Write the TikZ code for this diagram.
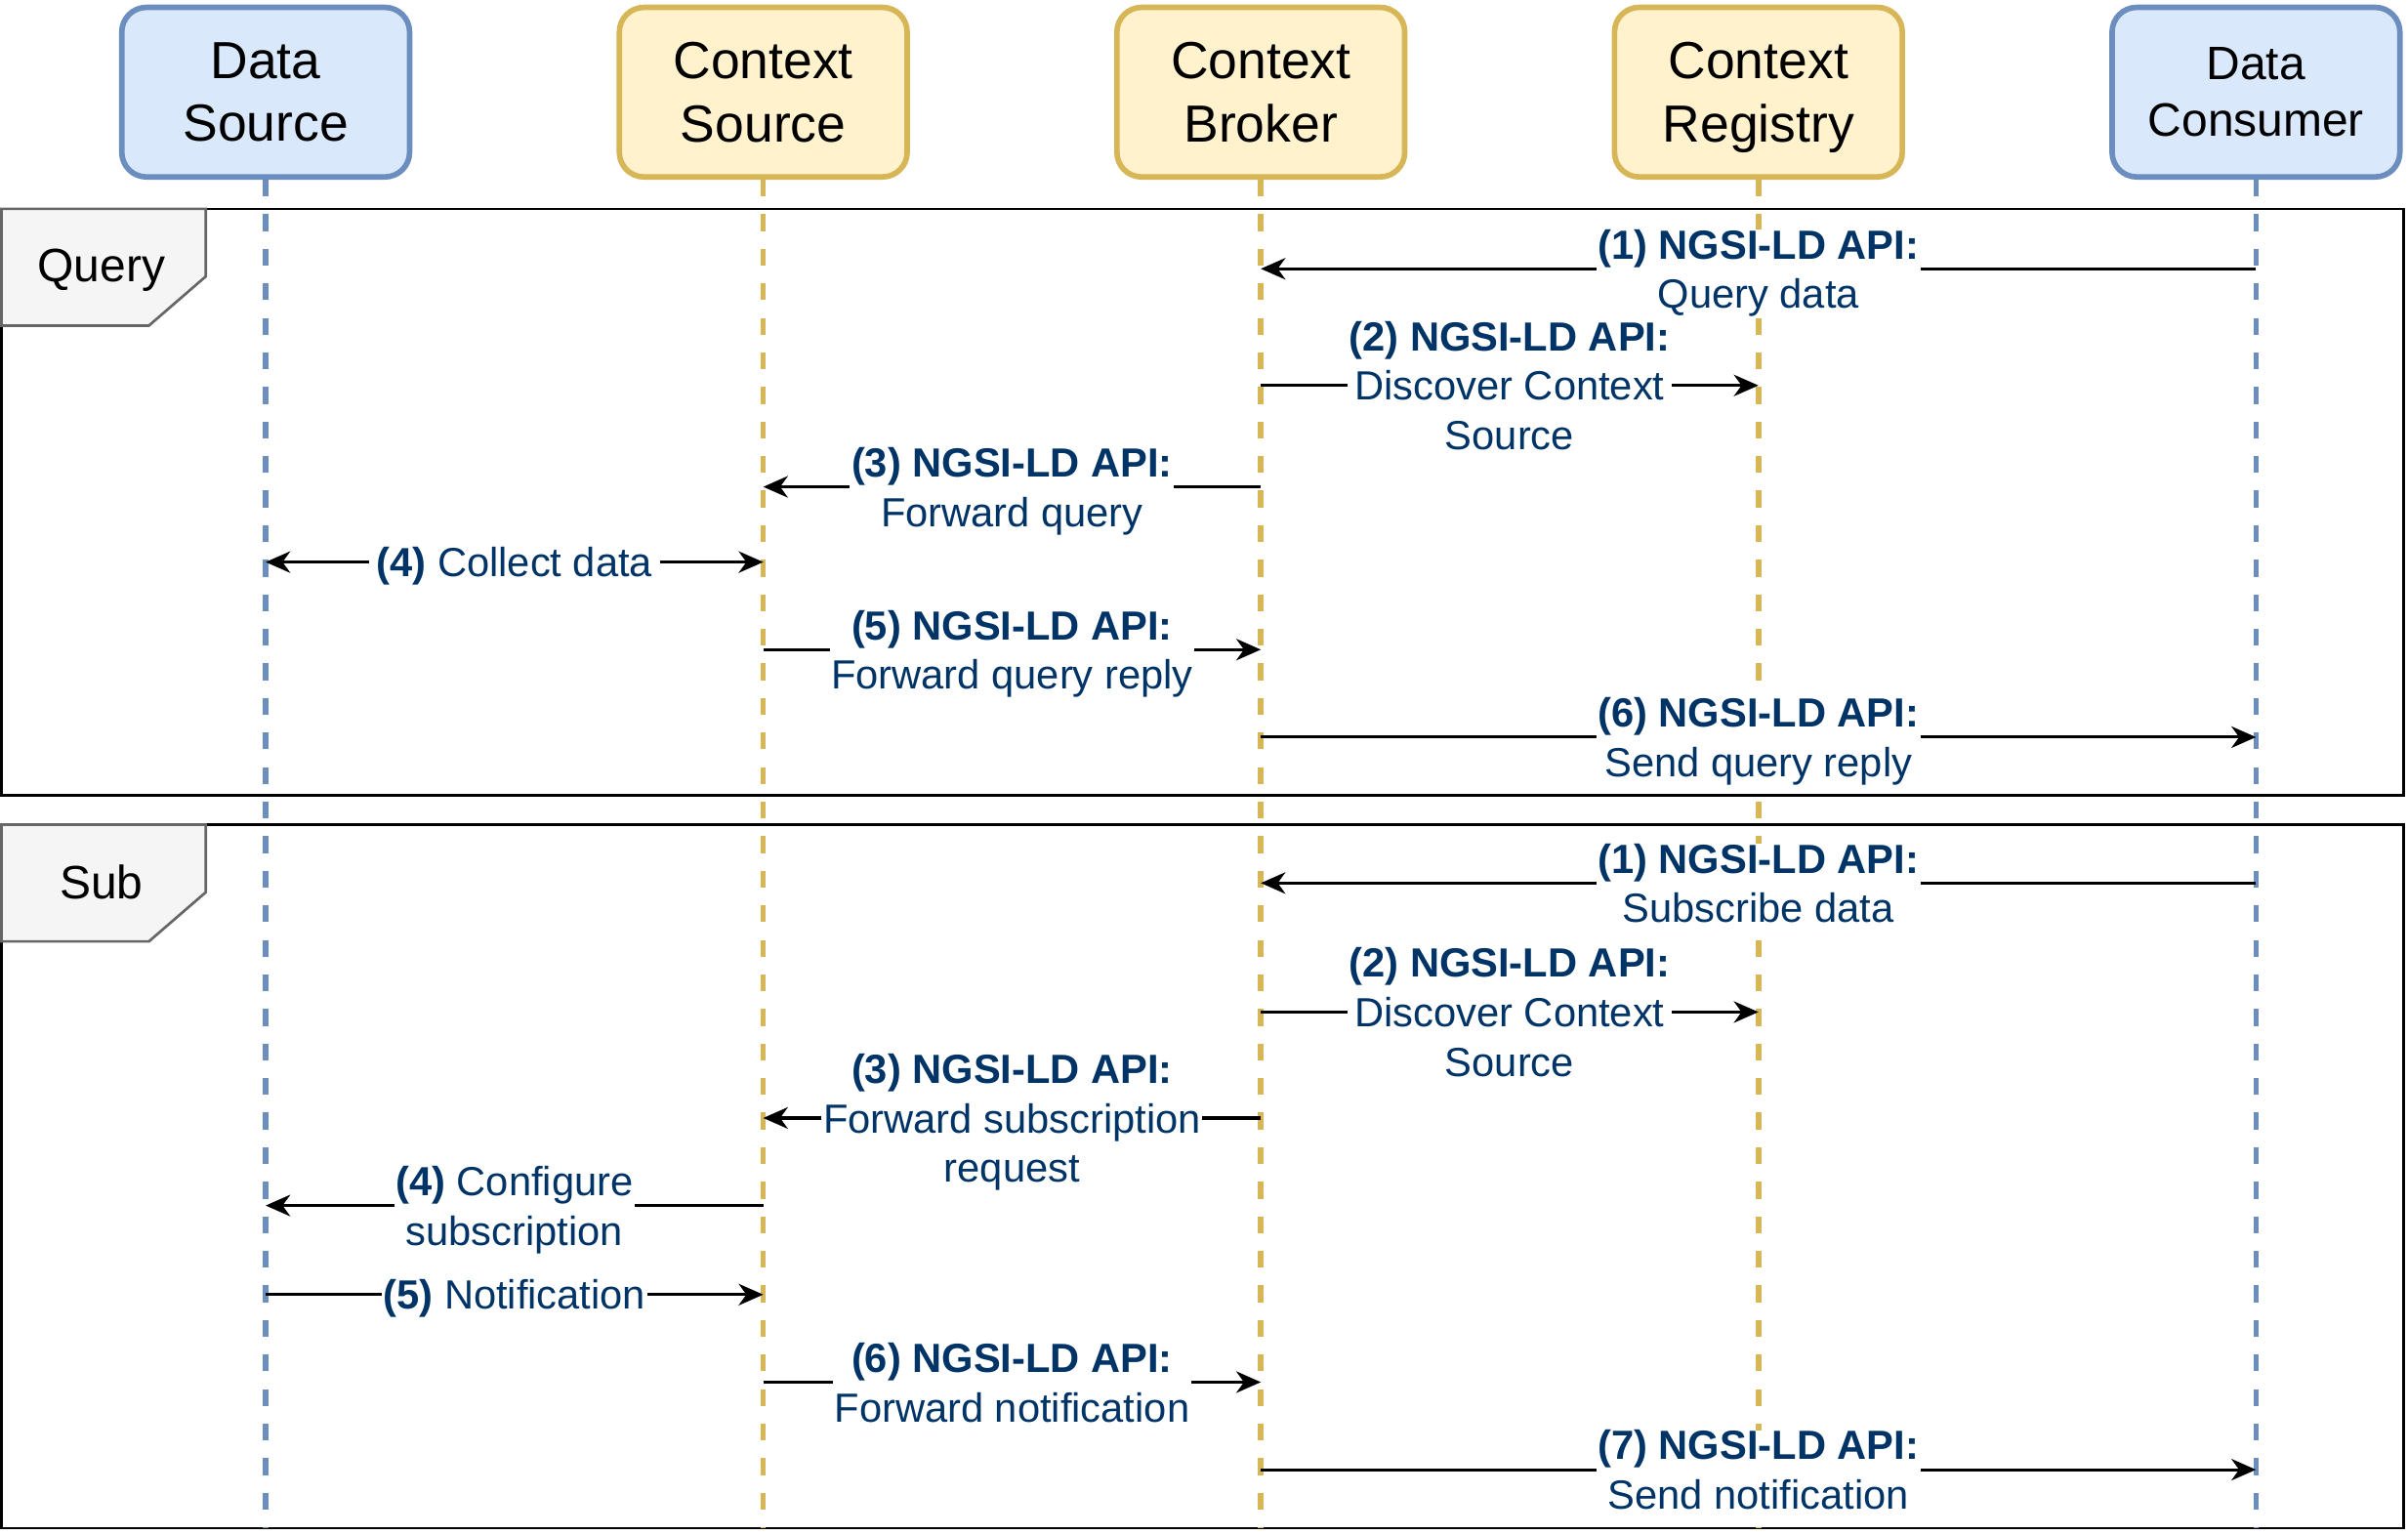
\documentclass[tikz,border=0pt]{standalone}
\usepackage{fontspec}
\setmainfont{Liberation Sans}
\usepackage{tikz}
\usetikzlibrary{arrows.meta, positioning}

\definecolor{blueFill}{HTML}{DAE8FC}
\definecolor{blueLine}{HTML}{6C8EBF}
\definecolor{yellowFill}{HTML}{FFF2CC}
\definecolor{yellowLine}{HTML}{D6B656}
\definecolor{frameFill}{HTML}{F5F5F5}
\definecolor{frameLine}{HTML}{666666}
\definecolor{labelBlue}{HTML}{003366}

\newcommand{\boxfont}{\fontsize{34}{41}\selectfont}
\newcommand{\smallboxfont}{\fontsize{30.5}{37}\selectfont}
\newcommand{\lblfont}{\fontsize{26.5}{32.3}\selectfont}

\begin{document}
\begin{tikzpicture}[x=1pt, y=-1pt, >={Stealth[length=16pt, width=14pt, inset=5pt]}]
        % Estilos
        \tikzstyle{actor} = [draw, rectangle, rounded corners=16pt, line width=3.6pt, minimum width=187.4pt, minimum height=110.4pt, align=center, font=\boxfont]
        \tikzstyle{blueActor} = [actor, fill=blueFill, draw=blueLine]
        \tikzstyle{yellowActor} = [actor, fill=yellowFill, draw=yellowLine]
        \tikzstyle{lifeline} = [line width=3.6pt, dash pattern=on 11pt off 11.5pt]
        \tikzstyle{frame} = [draw=black, line width=1.7pt]
        \tikzstyle{frameTag} = [draw=frameLine, fill=frameFill, line width=1.7pt]
        \tikzstyle{msg} = [draw, line width=2pt]
        \tikzstyle{lbl} = [fill=white, text=labelBlue, font=\lblfont, align=center, inner xsep=1pt, inner ysep=0pt, yshift=-2.8pt, execute at end node={\rule[-5.5pt]{0pt}{5.5pt}}]

        \useasboundingbox (0,0) rectangle (1568,999.5);

        % Frames
        \draw [frame] (1,136) rectangle (1565,518);
        \draw [frameTag] (1,136) -- (134,136) -- (134,180) -- (97,212) -- (1,212) -- cycle;
        \node [font=\smallboxfont, text depth=0pt] (queryTag) at (66,173) {Query};
        \draw [frame] (1,537) rectangle (1565,995);
        \draw [frameTag] (1,537) -- (134,537) -- (134,581) -- (97,613) -- (1,613) -- cycle;
        \node [font=\smallboxfont, text depth=0pt] (subTag) at (66,574) {Sub};

        % Nodes
        \node [blueActor] (dataSource) at (173,60) {Data\\Source};
        \node [yellowActor, on grid, right=324pt of dataSource] (contextSource) {Context\\Source};
        \node [yellowActor, on grid, right=324pt of contextSource] (contextBroker) {Context\\Broker};
        \node [yellowActor, on grid, right=324pt of contextBroker] (contextRegistry) {Context\\\smash{Registry}};
        \node [blueActor, on grid, right=324pt of contextRegistry, font=\smallboxfont] (dataConsumer) {Data\\Consumer};

        \coordinate (bottomLine) at (0,995);
        \coordinate (query1) at (0,175);
        \coordinate (query2) at (0,251);
        \coordinate (query3) at (0,317);
        \coordinate (query4) at (0,366);
        \coordinate (query5) at (0,423);
        \coordinate (query6) at (0,480);
        \coordinate (sub1) at (0,575);
        \coordinate (sub2) at (0,659);
        \coordinate (sub3) at (0,728);
        \coordinate (sub4) at (0,785);
        \coordinate (sub5) at (0,843);
        \coordinate (sub6) at (0,900);
        \coordinate (sub7) at (0,957);

        % Lifelines
        \draw [lifeline, blueLine] (dataSource.south) -- (dataSource |- bottomLine);
        \draw [lifeline, yellowLine] (contextSource.south) -- (contextSource |- bottomLine);
        \draw [lifeline, yellowLine] (contextBroker.south) -- (contextBroker |- bottomLine);
        \draw [lifeline, yellowLine] (contextRegistry.south) -- (contextRegistry |- bottomLine);
        \draw [lifeline, blueLine] (dataConsumer.south) -- (dataConsumer |- bottomLine);

        % Lines (Query)
        \draw [msg, ->] (dataConsumer |- query1) -- node [lbl] {\textbf{(1) NGSI-LD API:}\\Query data} (contextBroker |- query1);
        \draw [msg, ->] (contextBroker |- query2) -- node [lbl] {\textbf{(2) NGSI-LD API:}\\Discover Context\\Source} (contextRegistry |- query2);
        \draw [msg, ->] (contextBroker |- query3) -- node [lbl] {\textbf{(3) NGSI-LD API:}\\Forward query} (contextSource |- query3);
        \draw [msg, <->] (dataSource |- query4) -- node [lbl, inner xsep=5pt] {\textbf{(4)} Collect data} (contextSource |- query4);
        \draw [msg, ->] (contextSource |- query5) -- node [lbl] {\textbf{(5) NGSI-LD API:}\\Forward query reply} (contextBroker |- query5);
        \draw [msg, ->] (contextBroker |- query6) -- node [lbl] {\textbf{(6) NGSI-LD API:}\\Send query reply} (dataConsumer |- query6);

        % Lines (Sub)
        \draw [msg, ->] (dataConsumer |- sub1) -- node [lbl] {\textbf{(1) NGSI-LD API:}\\Subscribe data} (contextBroker |- sub1);
        \draw [msg, ->] (contextBroker |- sub2) -- node [lbl] {\textbf{(2) NGSI-LD API:}\\Discover Context\\Source} (contextRegistry |- sub2);
        \draw [msg, ->] (contextBroker |- sub3) -- node [lbl] {\textbf{(3) NGSI-LD API:}\\Forward subscription\\request} (contextSource |- sub3);
        \draw [msg, ->] (contextSource |- sub4) -- node [lbl] {\textbf{(4)} Configure\\subscription} (dataSource |- sub4);
        \draw [msg, ->] (dataSource |- sub5) -- node [lbl] {\textbf{(5)} Notification} (contextSource |- sub5);
        \draw [msg, ->] (contextSource |- sub6) -- node [lbl] {\textbf{(6) NGSI-LD API:}\\Forward notification} (contextBroker |- sub6);
        \draw [msg, ->] (contextBroker |- sub7) -- node [lbl] {\textbf{(7) NGSI-LD API:}\\Send notification} (dataConsumer |- sub7);

      \end{tikzpicture}
\end{document}
